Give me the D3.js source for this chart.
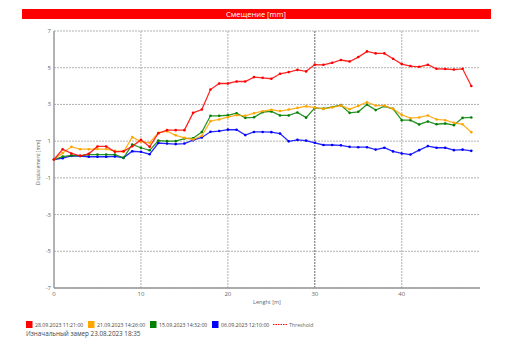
<!DOCTYPE html>
<html>
<head>
<meta charset="utf-8">
<script src="https://cdn.jsdelivr.net/npm/d3@7"></script>
<style>
  html, body { margin: 0; padding: 0; background: #fff; }
  svg { display: block; font-family: "Open Sans", "DejaVu Sans", sans-serif; }
  .grid line { stroke: #a8a8a8; stroke-dasharray: 2 1; stroke-width: 0.9; }
  .tick-label { fill: #666; font-size: 6px; }
</style>
</head>
<body>
<div id="chart"></div>
<script>
// distance along the line, metres 0..48
const lengths = d3.range(0, 49);

const red = [0, 0.56, 0.33, 0.2, 0.31, 0.71, 0.71, 0.42, 0.45, 0.72, 1.07, 0.69, 1.43, 1.6, 1.6, 1.6,
  2.54, 2.72, 3.81, 4.14, 4.14, 4.25, 4.25, 4.49, 4.45, 4.4, 4.67, 4.76, 4.88, 4.8, 5.17, 5.16,
  5.27, 5.42, 5.34, 5.58, 5.89, 5.78, 5.78, 5.49, 5.2, 5.09, 5.05, 5.16, 4.94, 4.93, 4.9, 4.94, 4.0];
const orange = [0, 0.35, 0.69, 0.56, 0.56, 0.57, 0.57, 0.47, 0.42, 1.22, 0.97, 0.91, 1.45, 1.54, 1.32, 1.18,
  1.09, 1.29, 2.09, 2.18, 2.31, 2.42, 2.38, 2.52, 2.63, 2.71, 2.64, 2.72, 2.81, 2.9, 2.83, 2.76,
  2.84, 2.94, 2.74, 2.92, 3.12, 2.94, 2.94, 2.76, 2.43, 2.25, 2.29, 2.4, 2.18, 2.14, 2.0, 1.92, 1.49];
const green = [0, 0.16, 0.22, 0.2, 0.27, 0.27, 0.27, 0.27, 0.09, 0.82, 0.64, 0.5, 1.03, 1.0, 1.0, 1.14,
  1.16, 1.5, 2.38, 2.38, 2.41, 2.52, 2.27, 2.3, 2.58, 2.62, 2.4, 2.4, 2.56, 2.28, 2.81, 2.77,
  2.86, 2.96, 2.54, 2.6, 2.99, 2.69, 2.9, 2.76, 2.14, 2.14, 1.91, 2.07, 1.92, 1.96, 1.87, 2.27, 2.29];
const blue = [0, 0.07, 0.2, 0.19, 0.15, 0.15, 0.15, 0.17, 0.09, 0.45, 0.42, 0.29, 0.9, 0.87, 0.84, 0.87,
  1.05, 1.2, 1.51, 1.55, 1.63, 1.62, 1.33, 1.5, 1.5, 1.49, 1.41, 0.99, 1.07, 1.03, 0.91, 0.79,
  0.79, 0.77, 0.69, 0.67, 0.67, 0.54, 0.64, 0.44, 0.33, 0.27, 0.51, 0.73, 0.64, 0.64, 0.51, 0.54, 0.47];

const seriesNames = ['28.09.2023 11:21:00', '21.09.2023 14:26:00', '15.09.2023 14:32:00', '06.09.2023 12:10:00'];
const seriesColors = ['#ff0000', '#ffa500', '#008000', '#0000ff'];
const seriesValues = [red, orange, green, blue];

const xTicks = [0, 10, 20, 30, 40];
const yTicks = [7, 5, 3, 1, -1, -3, -5, -7];

const W = 519, H = 347;
const svg = d3.select('#chart').append('svg').attr('width', W).attr('height', H);

const x = d3.scaleLinear().domain([0, 49]).range([54, 480]);
const y = d3.scaleLinear().domain([-7, 7]).range([288, 31]);

// title bar
svg.append('rect').attr('x', 22).attr('y', 9).attr('width', 469).attr('height', 10).attr('fill', '#ff0000');
svg.append('text').attr('x', 256).attr('y', 17).attr('text-anchor', 'middle')
  .attr('fill', '#fff').attr('font-size', 7.5).text('Смещение [mm]');

// grid
const grid = svg.append('g').attr('class', 'grid');
grid.selectAll('line.h').data(yTicks).join('line').attr('class', 'h')
  .attr('x1', x(0)).attr('x2', x(49)).attr('y1', d => y(d)).attr('y2', d => y(d));
grid.selectAll('line.v').data(xTicks.slice(1)).join('line').attr('class', 'v')
  .attr('x1', d => x(d)).attr('x2', d => x(d)).attr('y1', y(7)).attr('y2', y(-7))
  .style('stroke', d => d === 30 ? '#555' : null);

// axes
svg.append('line').attr('x1', x(0)).attr('x2', x(0)).attr('y1', y(7)).attr('y2', y(-7))
  .attr('stroke', '#999').attr('stroke-width', 1.5);
svg.append('line').attr('x1', x(0)).attr('x2', x(49)).attr('y1', y(-7)).attr('y2', y(-7))
  .attr('stroke', '#999').attr('stroke-width', 1.5);

svg.selectAll('text.yt').data(yTicks).join('text').attr('class', 'yt tick-label')
  .attr('x', x(0) - 3).attr('y', d => y(d) + 2).attr('text-anchor', 'end').text(d => d);
svg.selectAll('text.xt').data(xTicks).join('text').attr('class', 'xt tick-label')
  .attr('x', d => x(d)).attr('y', y(-7) + 8).attr('text-anchor', 'middle').text(d => d);

svg.append('text').attr('class', 'tick-label')
  .attr('transform', `translate(40,${y(0) + 3}) rotate(-90)`).attr('text-anchor', 'middle')
  .style('font-size', '5px').text('Displacement [mm]');
svg.append('text').attr('class', 'tick-label').attr('x', 267).attr('y', 304)
  .attr('text-anchor', 'middle').style('font-size', '5.5px').text('Lenght [m]');

// series: draw bottom to top (blue first, red last)
const line = d3.line().x((d, i) => x(lengths[i])).y(d => y(d));
[3, 2, 1, 0].forEach(k => {
  const g = svg.append('g');
  g.append('path').datum(seriesValues[k]).attr('d', line)
    .attr('fill', 'none').attr('stroke', seriesColors[k]).attr('stroke-width', 1.3).attr('stroke-opacity', 0.85);
  g.selectAll('circle').data(seriesValues[k]).join('circle')
    .attr('cx', (d, i) => x(lengths[i])).attr('cy', d => y(d)).attr('r', 1.3)
    .attr('fill', seriesColors[k]);
});

// legend
const legendX = [26, 88, 150, 212];
const leg = svg.append('g');
seriesNames.forEach((name, i) => {
  leg.append('rect').attr('x', legendX[i]).attr('y', 321).attr('width', 6.5).attr('height', 7)
    .attr('fill', seriesColors[i]);
  leg.append('text').attr('x', legendX[i] + 9).attr('y', 327).attr('font-size', 5.2)
    .attr('fill', '#444').text(name);
});
leg.append('line').attr('x1', 273).attr('x2', 287).attr('y1', 324.5).attr('y2', 324.5)
  .attr('stroke', '#ff0000').attr('stroke-width', 1).attr('stroke-dasharray', '1.5 1');
leg.append('text').attr('x', 289).attr('y', 327).attr('font-size', 5.2).attr('fill', '#666').text('Threshold');
svg.append('text').attr('x', 26).attr('y', 336).attr('font-size', 6.3).attr('fill', '#444')
  .text('Изначальный замер 23.08.2023 18:35');
</script>
</body>
</html>
